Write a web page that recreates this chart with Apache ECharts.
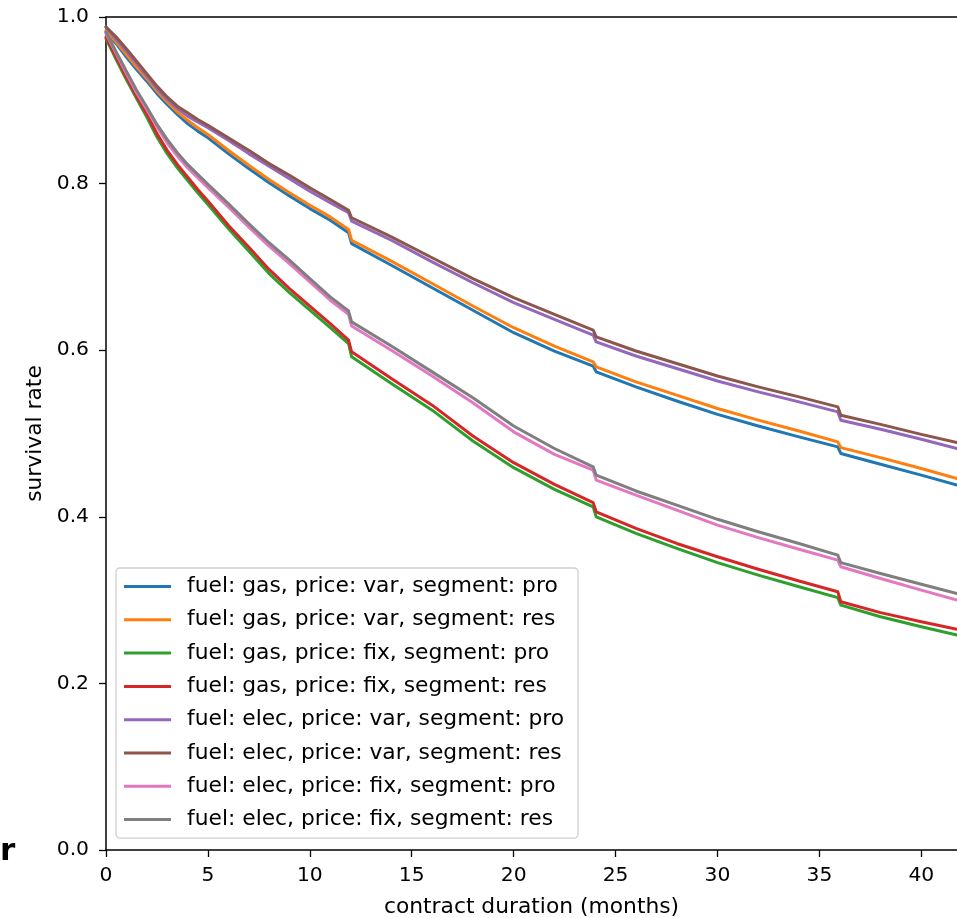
<!DOCTYPE html>
<html>
<head>
<meta charset="utf-8">
<script src="https://cdn.jsdelivr.net/npm/echarts@6/dist/echarts.min.js"></script>
<style>
  html, body { margin: 0; padding: 0; background: #fff; }
  #chart { width: 957px; height: 918px; }
</style>
</head>
<body>
<div id="chart"></div>
<script>
// Contract duration in months at which survival rates are sampled
const months = [0, 0.5, 1, 1.5, 2, 2.5, 3, 3.5, 4, 4.5, 5, 6, 7, 8, 9, 10, 11, 11.9, 12.05, 14, 16, 18, 20, 22, 23.9, 24.05, 26, 28, 30, 32, 34, 35.9, 36.05, 38, 40, 41.75];

const gasVarPro  = [0.982, 0.968, 0.952, 0.937, 0.923, 0.908, 0.895, 0.883, 0.872, 0.863, 0.855, 0.836, 0.818, 0.801, 0.785, 0.770, 0.756, 0.741, 0.728, 0.702, 0.675, 0.648, 0.621, 0.599, 0.581, 0.574, 0.556, 0.539, 0.523, 0.509, 0.496, 0.484, 0.476, 0.463, 0.450, 0.438];
const gasVarRes  = [0.984, 0.970, 0.955, 0.940, 0.926, 0.911, 0.898, 0.886, 0.876, 0.867, 0.859, 0.840, 0.822, 0.805, 0.789, 0.774, 0.760, 0.745, 0.732, 0.707, 0.680, 0.653, 0.627, 0.605, 0.586, 0.580, 0.562, 0.546, 0.530, 0.516, 0.503, 0.490, 0.483, 0.471, 0.458, 0.446];
const gasFixPro  = [0.974, 0.949, 0.925, 0.902, 0.880, 0.856, 0.836, 0.819, 0.804, 0.789, 0.775, 0.746, 0.719, 0.692, 0.669, 0.648, 0.627, 0.608, 0.592, 0.560, 0.528, 0.491, 0.459, 0.433, 0.412, 0.400, 0.380, 0.362, 0.345, 0.330, 0.316, 0.303, 0.294, 0.280, 0.268, 0.258];
const gasFixRes  = [0.976, 0.952, 0.928, 0.905, 0.884, 0.860, 0.840, 0.823, 0.808, 0.793, 0.779, 0.750, 0.724, 0.697, 0.674, 0.653, 0.632, 0.612, 0.598, 0.566, 0.534, 0.497, 0.465, 0.439, 0.417, 0.406, 0.386, 0.368, 0.352, 0.337, 0.323, 0.310, 0.298, 0.285, 0.274, 0.265];
const elecVarPro = [0.988, 0.973, 0.959, 0.944, 0.929, 0.914, 0.901, 0.890, 0.881, 0.874, 0.867, 0.852, 0.836, 0.821, 0.806, 0.791, 0.777, 0.765, 0.755, 0.732, 0.706, 0.681, 0.657, 0.637, 0.618, 0.610, 0.593, 0.578, 0.563, 0.550, 0.538, 0.526, 0.516, 0.505, 0.493, 0.482];
const elecVarRes = [0.988, 0.976, 0.962, 0.947, 0.932, 0.917, 0.904, 0.893, 0.885, 0.877, 0.870, 0.855, 0.840, 0.824, 0.810, 0.795, 0.781, 0.768, 0.759, 0.736, 0.711, 0.686, 0.663, 0.643, 0.624, 0.616, 0.599, 0.584, 0.569, 0.556, 0.544, 0.532, 0.522, 0.511, 0.499, 0.489];
const elecFixPro = [0.980, 0.956, 0.932, 0.909, 0.889, 0.868, 0.849, 0.833, 0.819, 0.807, 0.795, 0.772, 0.748, 0.725, 0.704, 0.682, 0.660, 0.643, 0.629, 0.600, 0.569, 0.537, 0.502, 0.475, 0.456, 0.444, 0.426, 0.408, 0.390, 0.375, 0.361, 0.348, 0.340, 0.326, 0.312, 0.300];
const elecFixRes = [0.982, 0.958, 0.935, 0.912, 0.892, 0.871, 0.853, 0.837, 0.823, 0.811, 0.799, 0.776, 0.752, 0.729, 0.708, 0.686, 0.664, 0.647, 0.634, 0.605, 0.574, 0.543, 0.509, 0.482, 0.460, 0.450, 0.431, 0.414, 0.397, 0.382, 0.368, 0.354, 0.345, 0.332, 0.319, 0.308];

const seriesNames = [
  'fuel: gas, price: var, segment: pro',
  'fuel: gas, price: var, segment: res',
  'fuel: gas, price: fix, segment: pro',
  'fuel: gas, price: fix, segment: res',
  'fuel: elec, price: var, segment: pro',
  'fuel: elec, price: var, segment: res',
  'fuel: elec, price: fix, segment: pro',
  'fuel: elec, price: fix, segment: res'
];
const seriesValues = [gasVarPro, gasVarRes, gasFixPro, gasFixRes, elecVarPro, elecVarRes, elecFixPro, elecFixRes];
const colors = ['#1f77b4', '#ff7f0e', '#2ca02c', '#d62728', '#9467bd', '#8c564b', '#e377c2', '#7f7f7f'];

const xTicks = [0, 5, 10, 15, 20, 25, 30, 35, 40];

const FONT = 'DejaVu Sans';
const TICK_SIZE = 20.3;
const TEXT_SIZE = 21.8;
const chart = echarts.init(document.getElementById('chart'), null, { renderer: 'canvas' });

const series = seriesNames.map((name, i) => ({
  name: name,
  type: 'line',
  data: months.map((m, j) => [m, seriesValues[i][j]]),
  showSymbol: false,
  symbol: 'none',
  smooth: false,
  lineStyle: { width: 3, color: colors[i], join: 'round', cap: 'round' },
  itemStyle: { color: colors[i] },
  z: 2 + i,
  animation: false
}));

chart.setOption({
  animation: false,
  backgroundColor: '#ffffff',
  grid: { left: 106, right: 0, top: 17, bottom: 68, containLabel: false, outerBoundsMode: 'none' },
  xAxis: [{
    type: 'value',
    min: 0,
    max: 41.75,
    interval: 5,
    name: 'contract duration (months)',
    nameLocation: 'middle',
    nameGap: 46,
    nameTextStyle: { fontFamily: FONT, fontSize: TEXT_SIZE, color: '#000' },
    axisLine: { show: true, onZero: false, lineStyle: { color: '#000', width: 1.5 } },
    axisTick: { show: true, inside: false, length: 7, lineStyle: { color: '#000', width: 1.3 }, customValues: xTicks },
    axisLabel: { fontFamily: FONT, fontSize: TICK_SIZE, color: '#000', margin: 16, customValues: xTicks },
    splitLine: { show: false }
  }, {
    type: 'value',
    position: 'top',
    min: 0,
    max: 41.75,
    axisLine: { show: true, onZero: false, lineStyle: { color: '#000', width: 1.5 } },
    axisTick: { show: false },
    axisLabel: { show: false },
    splitLine: { show: false }
  }],
  yAxis: {
    type: 'value',
    min: 0,
    max: 1,
    interval: 0.2,
    name: 'survival rate',
    nameLocation: 'middle',
    nameGap: 57,
    nameRotate: 90,
    nameTextStyle: { fontFamily: FONT, fontSize: TEXT_SIZE, color: '#000' },
    axisLine: { show: true, onZero: false, lineStyle: { color: '#000', width: 1.5 } },
    axisTick: { show: true, inside: false, length: 7, lineStyle: { color: '#000', width: 1.3 } },
    axisLabel: { fontFamily: FONT, fontSize: TICK_SIZE, color: '#000', margin: 17, formatter: v => v.toFixed(1) },
    splitLine: { show: false }
  },
  legend: {
    orient: 'vertical',
    left: 116,
    top: 568,
    padding: [6, 14, 6, 8],
    itemGap: 8.3,
    itemWidth: 47,
    itemHeight: 3,
    icon: 'rect',
    backgroundColor: 'rgba(255,255,255,0.85)',
    borderColor: '#d0d0d0',
    borderWidth: 1.3,
    borderRadius: 4,
    data: seriesNames,
    textStyle: { fontFamily: FONT, fontSize: TEXT_SIZE, color: '#000', lineHeight: 25, padding: [0, 0, 0, 11] }
  },
  graphic: [{
    type: 'text',
    left: 0,
    top: 836,
    style: { text: 'r', font: 'bold 31px "DejaVu Sans"', fill: '#000' }
  }],
  series: series
});
</script>
</body>
</html>
